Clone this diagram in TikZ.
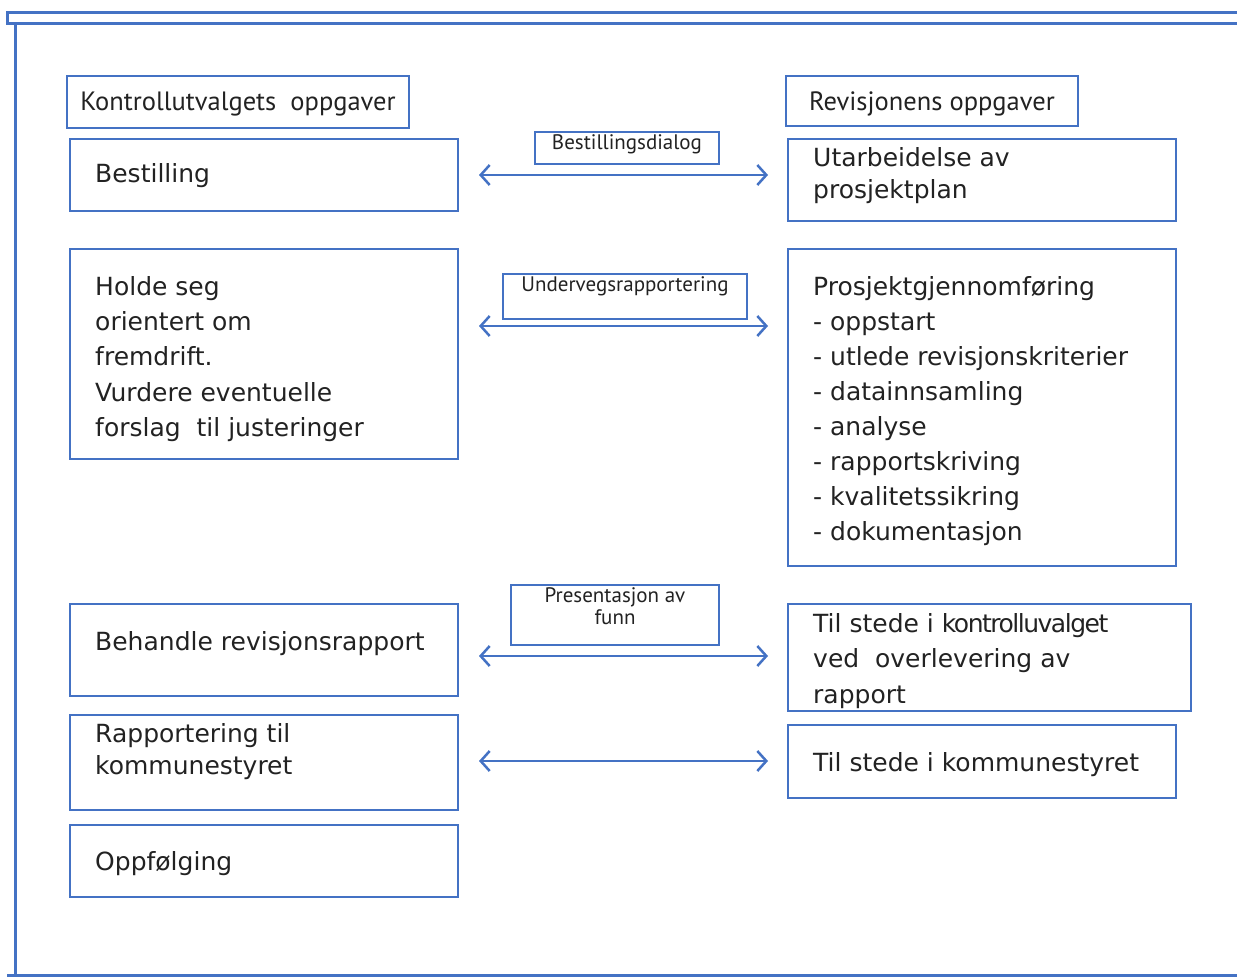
\documentclass[tikz,border=0pt]{standalone}
\usepackage{fontspec}
\usetikzlibrary{arrows.meta}
\newfontfamily\bodyf{DejaVu Sans}
\newfontfamily\headf{PT Sans}
\definecolor{frameblue}{HTML}{4472C4}
\definecolor{ink}{HTML}{222222}
\begin{document}
\begin{tikzpicture}[x=1pt,y=-1pt,
  box/.style={draw=frameblue, line width=2.6pt, anchor=north west, inner sep=0pt, outer sep=0pt},
  body/.style={anchor=west, inner sep=0pt, text=ink, align=left, font=\bodyf\fontsize{25}{35.3}\selectfont},
  headt/.style={inner sep=0pt, text=ink, font=\headf\fontsize{26.5}{30}\selectfont},
  lab/.style={anchor=north, inner sep=0pt, text=ink, align=center, font=\headf\fontsize{21}{22}\selectfont},
  link/.style={draw=frameblue, line width=2.5pt, {Straight Barb[length=9pt,width=20pt]}-{Straight Barb[length=9pt,width=20pt]}},
  framel/.style={draw=frameblue, line width=3pt}
]
\useasboundingbox (0,0) rectangle (1237,977);
% frame
\draw[framel] (1237,12) -- (7,12) -- (7,23) -- (1237,23);
\draw[framel] (15,23) -- (15,975);
\draw[framel] (7,975) -- (1237,975);

% headers
\node[box, minimum width=342pt, minimum height=52pt] (hl) at (67,76) {};
\node[headt] (hlt) at (238,104) {Kontrollutvalgets\ \ oppgaver};
\node[box, minimum width=292pt, minimum height=50pt] (hr) at (786,76) {};
\node[headt] (hrt) at (932,104) {Revisjonens oppgaver};

% left boxes
\node[box, minimum width=388pt, minimum height=72pt] (l1) at (70,139) {};
\node[body] (l1t) at (95,176) {Bestilling};
\node[box, minimum width=388pt, minimum height=210pt] (l2) at (70,249) {};
\node[body] (l2t) at (95,359) {Holde seg\\orientert om\\fremdrift.\\Vurdere eventuelle\\forslag\ \ til justeringer};
\node[box, minimum width=388pt, minimum height=92pt] (l3) at (70,604) {};
\node[body] (l3t) at (95,644) {Behandle revisjonsrapport};
\node[box, minimum width=388pt, minimum height=95pt] (l4) at (70,715) {};
\node[body, font=\bodyf\fontsize{25}{32}\selectfont] (l4t) at (95,752) {Rapportering til\\kommunestyret};
\node[box, minimum width=388pt, minimum height=72pt] (l5) at (70,825) {};
\node[body] (l5t) at (95,864) {Oppfølging};

% right boxes
\node[box, minimum width=388pt, minimum height=82pt] (r1) at (788,139) {};
\node[body, font=\bodyf\fontsize{25}{32}\selectfont] (r1t) at (813,176) {Utarbeidelse av\\prosjektplan};
\node[box, minimum width=388pt, minimum height=317pt] (r2) at (788,249) {};
\node[body, font=\bodyf\fontsize{25}{35.1}\selectfont] (r2t) at (813,411) {Prosjektgjennomføring\\- oppstart\\- utlede revisjonskriterier\\- datainnsamling\\- analyse\\- rapportskriving\\- kvalitetssikring\\- dokumentasjon};
\node[box, minimum width=403pt, minimum height=107pt] (r3) at (788,604) {};
\node[body] (r3t) at (813,661) {Til stede i {\addfontfeature{LetterSpace=-6}kontrolluvalget}\\ved\ \ overlevering av\\rapport};
\node[box, minimum width=388pt, minimum height=73pt] (r4) at (788,725) {};
\node[body] (r4t) at (813,765) {Til stede i kommunestyret};

% middle label boxes
\node[box, minimum width=184pt, minimum height=32pt] (m1) at (535,132) {};
\node[lab] (m1t) at (627,134) {Bestillingsdialog};
\node[box, minimum width=244pt, minimum height=45pt] (m2) at (503,274) {};
\node[lab] (m2t) at (625,276) {Undervegsrapportering};
\node[box, minimum width=208pt, minimum height=60pt] (m3) at (511,585) {};
\node[lab] (m3t) at (615,587) {Presentasjon av\\funn};

% arrows
\coordinate (a1l) at (479,175); \coordinate (a1r) at (768,175);
\coordinate (a2l) at (479,326); \coordinate (a2r) at (768,326);
\coordinate (a3l) at (479,656); \coordinate (a3r) at (768,656);
\coordinate (a4l) at (479,761); \coordinate (a4r) at (768,761);
\draw[link] (a1l) -- (a1r);
\draw[link] (a2l) -- (a2r);
\draw[link] (a3l) -- (a3r);
\draw[link] (a4l) -- (a4r);
\end{tikzpicture}
\end{document}
